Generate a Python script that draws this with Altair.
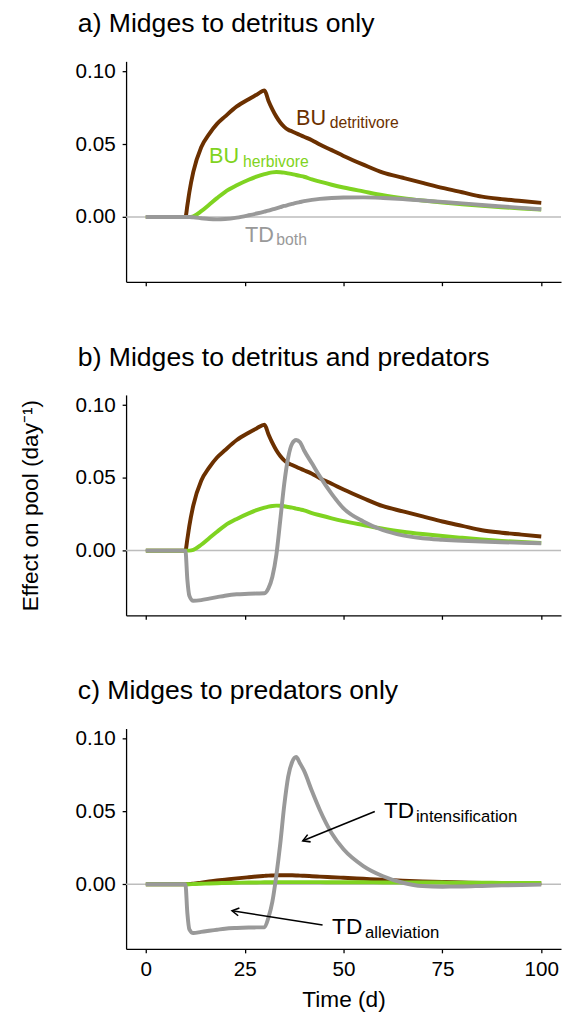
import math
import altair as alt
import pandas as pd

# ---------------- data ----------------
time = [0, 10, 10.5, 11, 12, 14, 16, 18, 20, 23, 26, 28, 30, 31, 32, 33, 34, 35,
        36, 37, 38, 39, 40, 42, 44, 47, 50, 55, 60, 65, 70, 75, 80, 85, 90, 95, 100]

a_detritivore = [0, 0, 0.008, 0.017, 0.031, 0.048, 0.057, 0.064, 0.069, 0.076, 0.081, 0.084, 0.087,
                 0.080, 0.074, 0.069, 0.065, 0.062, 0.060, 0.0588, 0.0576, 0.0564, 0.0552,
                 0.0528, 0.0498, 0.046, 0.042,
                 0.036, 0.0305, 0.027, 0.0235, 0.020, 0.017, 0.014, 0.0123, 0.011, 0.0097]
a_herbivore = [0, 0, 0, 0, 0.0005, 0.004, 0.0085, 0.013, 0.0172, 0.0218, 0.0256, 0.0278, 0.0295,
               0.0302, 0.0307, 0.0309, 0.0308, 0.0305, 0.0300, 0.0295, 0.0289, 0.0283, 0.0277,
               0.0258, 0.0243, 0.0222, 0.0203,
               0.0176, 0.0150, 0.0130, 0.0114, 0.0100, 0.0088, 0.0077, 0.0067, 0.0059, 0.0052]
a_both = [0, 0, 0, 0, -0.0002, -0.0008, -0.0014, -0.0016, -0.0014, -0.0004, 0.0012, 0.0024, 0.0037,
          0.0044, 0.0052, 0.0060, 0.0068, 0.0076, 0.0083, 0.0090, 0.0097, 0.0103, 0.0109,
          0.0118, 0.0125, 0.0131, 0.0134,
          0.0135, 0.0131, 0.0124, 0.0114, 0.0104, 0.0094, 0.0083, 0.0073, 0.0063, 0.0053]

b_detritivore = [0, 0, 0.008, 0.017, 0.031, 0.048, 0.057, 0.064, 0.069, 0.076, 0.081, 0.084, 0.0865,
                 0.080, 0.074, 0.069, 0.065, 0.062, 0.060, 0.0588, 0.0576, 0.0564, 0.0552,
                 0.0528, 0.0498, 0.046, 0.042,
                 0.036, 0.0305, 0.027, 0.0235, 0.020, 0.017, 0.014, 0.0123, 0.011, 0.0097]
b_herbivore = [0, 0, 0, 0, 0.0005, 0.004, 0.0085, 0.013, 0.0172, 0.0218, 0.0256, 0.0278, 0.0295,
               0.0302, 0.0307, 0.0309, 0.0308, 0.0305, 0.0300, 0.0295, 0.0289, 0.0283, 0.0277,
               0.0258, 0.0243, 0.0222, 0.0203,
               0.0176, 0.0150, 0.0130, 0.0114, 0.0100, 0.0088, 0.0077, 0.0067, 0.0059, 0.0052]
b_both = [0, 0, -0.020, -0.031, -0.0345, -0.034, -0.033, -0.032, -0.031, -0.030, -0.0297, -0.0295, -0.0293,
          -0.026, -0.018, -0.003, 0.021, 0.046, 0.064, 0.0735, 0.076, 0.0745, 0.069,
          0.060, 0.051, 0.039, 0.029,
          0.020, 0.014, 0.0105, 0.0085, 0.0075, 0.0068, 0.0063, 0.0058, 0.0054, 0.005]

c_detritivore = [0, 0, 0, 0.0001, 0.0004, 0.0011, 0.0018, 0.0025, 0.0031, 0.0040, 0.0048, 0.0053, 0.0057,
                 0.0059, 0.0060, 0.0061, 0.0062, 0.0062, 0.0062, 0.0061, 0.0060, 0.0059, 0.0058,
                 0.0055, 0.0052, 0.0048, 0.0044,
                 0.0037, 0.0030, 0.0024, 0.0019, 0.0015, 0.0012, 0.0009, 0.0007, 0.0006, 0.0005]
c_herbivore = [0, 0, 0, 0, 0.0001, 0.0003, 0.0005, 0.0007, 0.0008, 0.0010, 0.0012, 0.0012, 0.0013,
               0.0013, 0.0013, 0.0014, 0.0014, 0.0014, 0.0014, 0.0014, 0.0014, 0.0014, 0.0014,
               0.0014, 0.0014, 0.0013, 0.0013,
               0.0013, 0.0012, 0.0012, 0.0011, 0.0011, 0.0010, 0.0010, 0.0009, 0.0009, 0.0008]
c_both = [0, 0, -0.020, -0.031, -0.0336, -0.0328, -0.032, -0.0313, -0.0306, -0.0301, -0.0298, -0.0297, -0.0296,
          -0.023, -0.012, 0.006, 0.028, 0.054, 0.074, 0.084, 0.0874, 0.083, 0.078,
          0.064, 0.051, 0.035, 0.024,
          0.0125, 0.0055, 0.001, -0.0013, -0.0017, -0.0016, -0.0012, -0.0008, -0.0005, -0.0003]

panel_titles = ["a) Midges to detritus only",
                "b) Midges to detritus and predators",
                "c) Midges to predators only"]

# curve labels: panel, main text, subscript, anchor x/y of main, anchor x/y of subscript, series
label_panel = ["a", "a", "a", "c", "c"]
label_main = ["BU", "BU", "TD", "TD", "TD"]
label_sub = ["detritivore", "herbivore", "both", "intensification", "alleviation"]
label_series = ["detritivore", "herbivore", "both", "note", "note"]
label_x = [38.0, 16.0, 25.1, 60.2, 47.1]
label_y = [0.0632, 0.0372, -0.0169, 0.0455, -0.0340]
sub_x = [46.5, 24.6, 33.0, 68.3, 55.4]
sub_y = [0.0610, 0.0345, -0.0192, 0.0426, -0.0370]

# arrows in panel c
arrow_x1 = [57.9, 44.7]
arrow_y1 = [0.050, -0.028]
arrow_x2 = [39.7, 21.8]
arrow_y2 = [0.0298, -0.0183]

# ---------------- styling ----------------
FONT = "Liberation Sans"
W, H = 442, 224
XDOM = [-5, 105]
YDOM = [-0.0445, 0.107]
COLORS = {"detritivore": "#6B3000", "herbivore": "#7FD321", "both": "#999999", "note": "#000000"}

xscale = alt.Scale(domain=XDOM, nice=False, zero=False)
yscale = alt.Scale(domain=YDOM, nice=False, zero=False)


def x_axis(bottom):
    kw = dict(values=[0, 25, 50, 75, 100], grid=False, tickSize=4, domainColor="black",
              tickColor="black", domainWidth=1.3, tickWidth=1.3, labelFont=FONT,
              labelFontSize=21, labelColor="black", labelPadding=6, titleFont=FONT,
              titleFontSize=23, titleFontWeight="normal", titleColor="black", titlePadding=10)
    if bottom:
        return alt.Axis(title="Time (d)", **kw)
    return alt.Axis(title=None, labels=False, **kw)


def y_axis(with_title):
    kw = dict(values=[0, 0.05, 0.1], format=".2f", grid=False, tickSize=4, domainColor="black",
              tickColor="black", domainWidth=1.3, tickWidth=1.3, labelFont=FONT,
              labelFontSize=21, labelColor="black", labelPadding=7, titleFont=FONT,
              titleFontSize=23, titleFontWeight="normal", titleColor="black", titlePadding=33)
    if with_title:
        return alt.Axis(title="Effect on pool (day⁻¹)", **kw)
    return alt.Axis(title=None, **kw)


series_data = {
    "a": {"detritivore": a_detritivore, "herbivore": a_herbivore, "both": a_both},
    "b": {"detritivore": b_detritivore, "herbivore": b_herbivore, "both": b_both},
    "c": {"detritivore": c_detritivore, "herbivore": c_herbivore, "both": c_both},
}

labels_df = pd.DataFrame({
    "panel": label_panel, "main": label_main, "sub": label_sub, "series": label_series,
    "lx": label_x, "ly": label_y, "sx": sub_x, "sy": sub_y,
})

px_per_x = W / (XDOM[1] - XDOM[0])
px_per_y = H / (YDOM[1] - YDOM[0])
arrows_df = pd.DataFrame({"x": arrow_x1, "y": arrow_y1, "x2": arrow_x2, "y2": arrow_y2})
arrows_df["ang"] = [
    (math.degrees(math.atan2(-(b2 - b1) * px_per_y, (a2 - a1) * px_per_x)) + 360) % 360
    for a1, b1, a2, b2 in zip(arrow_x1, arrow_y1, arrow_x2, arrow_y2)
]


def panel(key, title, bottom, ytitle):
    xa = x_axis(bottom)
    ya = y_axis(ytitle)
    layers = []
    zero = alt.Chart(pd.DataFrame({"y": [0.0]})).mark_rule(color="#BDBDBD", strokeWidth=1.5).encode(
        y=alt.Y("y:Q", scale=yscale, axis=ya)
    )
    layers.append(zero)
    for s in ["detritivore", "herbivore", "both"]:
        df = pd.DataFrame({"x": time, "y": series_data[key][s]})
        layers.append(
            alt.Chart(df).mark_line(color=COLORS[s], strokeWidth=4, interpolate="monotone").encode(
                x=alt.X("x:Q", scale=xscale, axis=xa),
                y=alt.Y("y:Q", scale=yscale, axis=ya),
            )
        )
    ldf = labels_df[labels_df["panel"] == key]
    if len(ldf):
        for s in ldf["series"].unique():
            sdf = ldf[ldf["series"] == s]
            big = 23 if key == "c" else 22
            small = 17 if key == "c" else 16
            layers.append(
                alt.Chart(sdf).mark_text(align="left", baseline="alphabetic", font=FONT,
                                         fontSize=big, color=COLORS[s]).encode(
                    x=alt.X("lx:Q", scale=xscale, axis=xa),
                    y=alt.Y("ly:Q", scale=yscale, axis=ya),
                    text="main:N",
                )
            )
            layers.append(
                alt.Chart(sdf).mark_text(align="left", baseline="alphabetic", font=FONT,
                                         fontSize=small, color=COLORS[s]).encode(
                    x=alt.X("sx:Q", scale=xscale, axis=xa),
                    y=alt.Y("sy:Q", scale=yscale, axis=ya),
                    text="sub:N",
                )
            )
    if key == "c":
        layers.append(
            alt.Chart(arrows_df).mark_rule(color="black", strokeWidth=1.6).encode(
                x=alt.X("x:Q", scale=xscale, axis=xa),
                y=alt.Y("y:Q", scale=yscale, axis=ya),
                x2="x2:Q",
                y2="y2:Q",
            )
        )
        layers.append(
            alt.Chart(arrows_df).mark_point(shape="M -0.866 -0.5 L 0 0 L -0.866 0.5", filled=False,
                                            size=256, strokeWidth=1.6, color="black", opacity=1).encode(
                x=alt.X("x2:Q", scale=xscale, axis=xa),
                y=alt.Y("y2:Q", scale=yscale, axis=ya),
                angle=alt.Angle("ang:Q", scale=None),
            )
        )
    return alt.layer(*layers).properties(
        width=W, height=H,
        title=alt.TitleParams(text=title, anchor="start", frame="group", dx=-49, offset=23,
                              fontSize=27, font=FONT, fontWeight="normal", color="black"),
    )


chart = alt.vconcat(
    panel("a", panel_titles[0], False, False),
    panel("b", panel_titles[1], False, True),
    panel("c", panel_titles[2], True, False),
    spacing=58,
).properties(
    padding={"left": 12, "top": -6, "right": 0, "bottom": 0}
).configure_view(stroke=None)

chart.save("out.html", embed_options={"renderer": "svg", "actions": False})
